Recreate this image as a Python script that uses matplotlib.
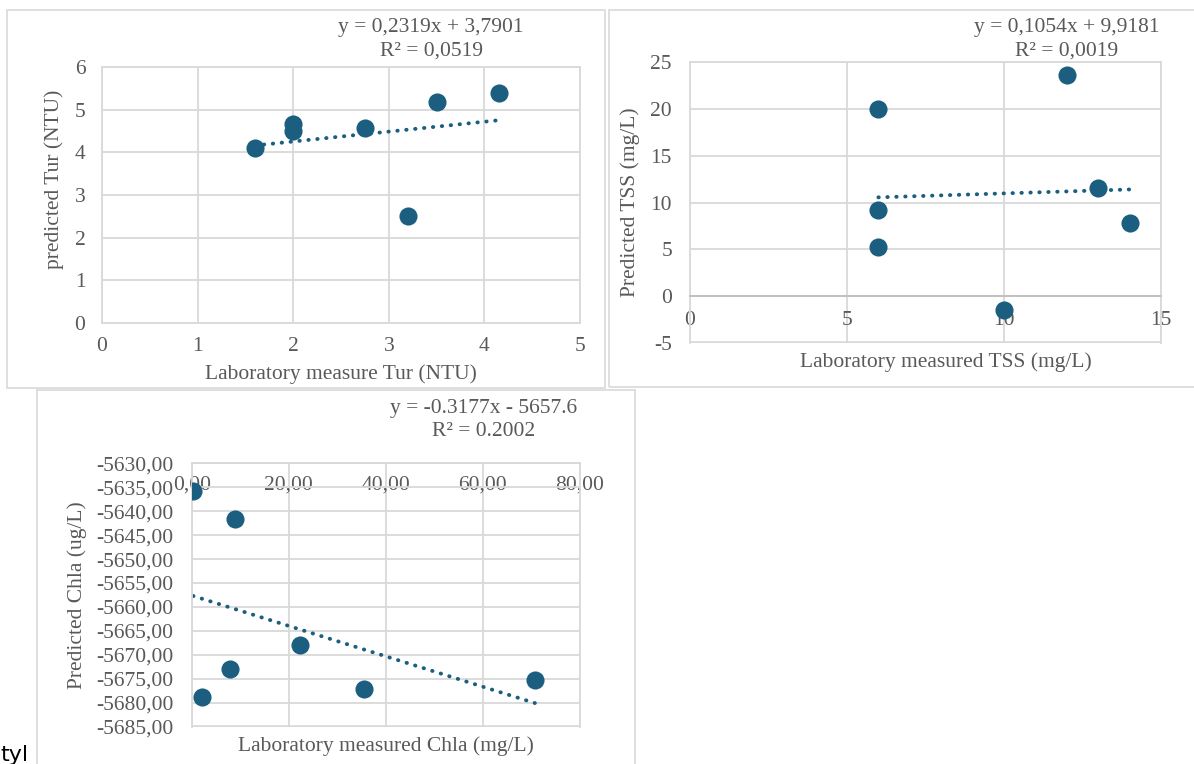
import matplotlib
matplotlib.use('Agg')
import matplotlib.pyplot as plt
from matplotlib.ticker import FuncFormatter, MultipleLocator
from matplotlib.patches import Rectangle

plt.rcParams['font.family'] = ['Liberation Serif', 'DejaVu Serif']
plt.rcParams['axes.unicode_minus'] = False

# turbidity (NTU)
tur_lab = [1.6, 2.0, 2.0, 2.75, 3.2, 3.5, 4.15]
tur_pred = [4.1, 4.67, 4.5, 4.57, 2.5, 5.18, 5.39]
tur_coef = (0.2319, 3.7901)
tur_eq = 'y = 0,2319x + 3,7901\nR² = 0,0519'

# TSS (mg/L)
tss_lab = [6, 6, 6, 10, 12, 13, 14]
tss_pred = [20.0, 9.2, 5.3, -1.5, 23.6, 11.6, 7.85]
tss_coef = (0.1054, 9.9181)
tss_eq = 'y = 0,1054x + 9,9181\nR² = 0,0019'

# Chla
chla_lab = [0.3, 9.0, 22.3, 7.85, 2.05, 35.4, 70.7]
chla_pred = [-5635.8, -5641.6, -5667.9, -5673.0, -5678.9, -5677.2, -5675.2]
chla_coef = (-0.3177, -5657.6)
chla_eq = 'y = -0.3177x - 5657.6\nR² = 0.2002'

W, H = 1194, 764
dot = '#1b5e80'
grey = '#595959'
gridc = '#d9d9d9'
fs = 15.5

fig = plt.figure(figsize=(W / 100, H / 100), dpi=100)


def px_axes(x0, y0, x1, y1):
    # pixel box (top-left origin) -> axes
    return fig.add_axes([x0 / W, 1 - y1 / H, (x1 - x0) / W, (y1 - y0) / H])


def frame(x0, y0, x1, y1):
    fig.patches.append(Rectangle((x0 / W, 1 - y1 / H), (x1 - x0) / W, (y1 - y0) / H,
                                 transform=fig.transFigure, fill=False,
                                 edgecolor=gridc, lw=1.2))


def style(ax):
    ax.grid(True, color=gridc, lw=1.3)
    ax.set_axisbelow(True)
    for s in ax.spines.values():
        s.set_color(gridc)
        s.set_linewidth(1.3)
    ax.tick_params(length=0, labelsize=fs, colors=grey)


def scatter_trend(ax, x, y, coef):
    ax.scatter(x, y, s=170, color=dot, zorder=3, linewidths=0)
    xs = [min(x), max(x)]
    ax.plot(xs, [coef[0] * v + coef[1] for v in xs], color=dot, lw=2.8,
            ls=(0, (0.1, 2.2)), dash_capstyle='round', zorder=2)


frame(7, 10, 605, 388)
frame(609, 10, 1200, 387)
frame(37, 390, 635, 770)

# panel 1
ax1 = px_axes(102, 67, 580, 323)
style(ax1)
scatter_trend(ax1, tur_lab, tur_pred, tur_coef)
ax1.set_xlim(0, 5)
ax1.set_ylim(0, 6)
ax1.xaxis.set_major_locator(MultipleLocator(1))
ax1.yaxis.set_major_locator(MultipleLocator(1))
ax1.tick_params(axis='x', pad=10)
ax1.tick_params(axis='y', pad=12)
ax1.set_xlabel('Laboratory measure Tur (NTU)', fontsize=fs, color=grey)
ax1.set_ylabel('predicted Tur (NTU)', fontsize=fs, color=grey)
ax1.xaxis.set_label_coords(0.5, -0.16)
ax1.yaxis.set_label_coords(-0.08, 0.563)
fig.text(431 / W, 1 - 39.5 / H, tur_eq, ha='center', va='center', fontsize=fs,
         color=grey, linespacing=1.3)

# panel 2
ax2 = px_axes(690, 62, 1161, 343)
style(ax2)
scatter_trend(ax2, tss_lab, tss_pred, tss_coef)
ax2.set_xlim(0, 15)
ax2.set_ylim(-5, 25)
ax2.xaxis.set_major_locator(MultipleLocator(5))
ax2.yaxis.set_major_locator(MultipleLocator(5))
ax2.spines['bottom'].set_position(('data', 0))
ax2.spines['bottom'].set_color('#bfbfbf')
ax2.axhline(-5, color=gridc, lw=2.6, zorder=0)
ax2.tick_params(axis='x', pad=11)
ax2.tick_params(axis='y', pad=13)
ax2.set_xlabel('Laboratory measured TSS (mg/L)', fontsize=fs, color=grey)
ax2.set_ylabel('Predicted TSS (mg/L)', fontsize=fs, color=grey)
ax2.xaxis.set_label_coords(0.543, -0.034)
ax2.yaxis.set_label_coords(-0.107, 0.5)
fig.text(1066.5 / W, 1 - 39.5 / H, tss_eq, ha='center', va='center', fontsize=fs,
         color=grey, linespacing=1.3)

# panel 3
ax3 = px_axes(191.7, 463.3, 580, 726.7)
style(ax3)
scatter_trend(ax3, chla_lab, chla_pred, chla_coef)
ax3.set_xlim(0, 80)
ax3.set_ylim(-5685, -5630)
ax3.xaxis.set_major_locator(MultipleLocator(20))
ax3.yaxis.set_major_locator(MultipleLocator(5))
comma = FuncFormatter(lambda v, p: f'{v:.2f}'.replace('.', ','))
ax3.xaxis.set_major_formatter(comma)
ax3.yaxis.set_major_formatter(comma)
ax3.spines['bottom'].set_position(('data', -5630))
ax3.axhline(-5685, color=gridc, lw=2.6, zorder=0)
ax3.tick_params(axis='x', pad=9)
ax3.tick_params(axis='y', pad=13)
ax3.set_xlabel('Laboratory measured Chla (mg/L)', fontsize=fs, color=grey)
ax3.set_ylabel('Predicted Chla (ug/L)', fontsize=fs, color=grey)
ax3.xaxis.set_label_coords(0.5, -0.035)
ax3.yaxis.set_label_coords(-0.27, 0.5)
fig.text(484 / W, 1 - 419.7 / H, chla_eq, ha='center', va='center', fontsize=fs,
         color=grey, linespacing=1.3)

fig.text(0.0, 1 - 761 / H, 'tyl', fontsize=16, color='black', family='DejaVu Sans',
         ha='left', va='baseline')

fig.savefig('out.png', dpi=100)
